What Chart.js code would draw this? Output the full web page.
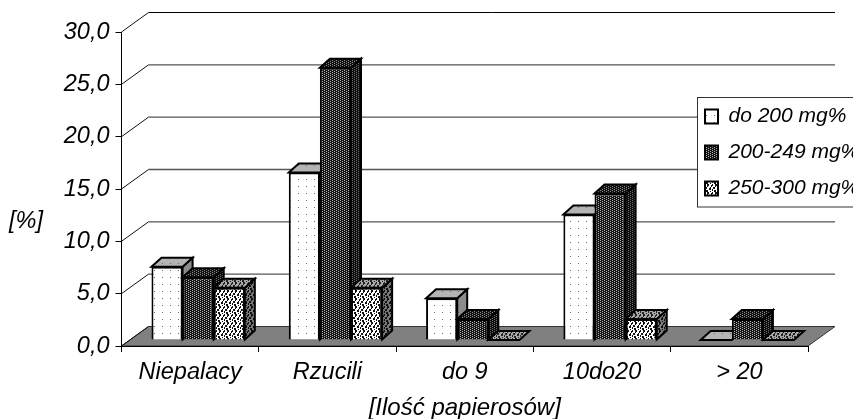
<!DOCTYPE html>
<html><head><meta charset="utf-8">
<style>html,body{margin:0;padding:0;background:#fff}canvas{display:block}</style>
<script src="https://cdn.jsdelivr.net/npm/chart.js@4"></script></head>
<body><canvas id="c" width="853" height="419"></canvas>
<script>
const categories = ['Niepalacy','Rzucili','do 9','10do20','> 20'];
const seriesNames = ['do 200 mg%','200-249 mg%','250-300 mg%'];
const low = [7,16,4,12,0];
const mid = [6,26,2,14,2];
const high = [5,5,0,2,0];
const yTitle = '[%]';
const xTitle = '[Ilość papierosów]';
const FAMILY='"Liberation Sans"';
const TICK_FONT = {family:FAMILY,style:'italic',size:23.5};
const TITLE_FONT = {family:FAMILY,style:'italic',size:24};
const LEGEND_FONT = {family:FAMILY,style:'italic',size:21};

function tile(rows,map){
  const c=document.createElement('canvas');c.width=rows[0].length;c.height=rows.length;
  const x=c.getContext('2d');
  rows.forEach((r,j)=>[...r].forEach((k,i)=>{x.fillStyle=map[k];x.fillRect(i,j,1,1);}));
  return document.getElementById('c').getContext('2d').createPattern(c,'repeat');
}
const dots=['........','........','........','..#.....','........','........','........'];
const check=['o###','##o#'];
const speck=['#..##...','#..##..#','...#...#','.##...#.','.##..##.','#....##.','#.##....','..##..#.'];
const faces=[
 {front:tile(dots,{'.':'#ffffff','#':'#666666'}),top:tile(dots,{'.':'#b4b4b4','#':'#666666'}),side:tile(dots,{'.':'#8c8c8c','#':'#666666'})},
 {front:tile(check,{'#':'#141414','o':'#b4b4b4'}),top:tile(check,{'#':'#111111','o':'#8a8a8a'}),side:tile(check,{'#':'#0c0c0c','o':'#707070'})},
 {front:tile(speck,{'.':'#ffffff','#':'#111111'}),top:tile(speck,{'.':'#a8a8a8','#':'#222222'}),side:tile(speck,{'.':'#777777','#':'#111111'})}
];

const DX=27,DY=19.5, SHIFT_X=8,SHIFT_Y=-6, BX=10,BY=9;

function poly(ctx,pts,fill){
  ctx.beginPath();pts.forEach((p,i)=>i?ctx.lineTo(p[0],p[1]):ctx.moveTo(p[0],p[1]));ctx.closePath();
  ctx.fillStyle=fill;ctx.fill();ctx.lineWidth=2;ctx.strokeStyle='#000';ctx.lineJoin='miter';ctx.stroke();
}
const scene={
 id:'scene',
 beforeLayout(chart){
   const L=chart.legend;
   if(!L._wrapped){const fit=L.fit;L.fit=function(){fit.call(this);this.width=0;};L._wrapped=true;}
 },
 afterLayout(chart){
   const L=chart.legend;
   L.left=690;L.right=853;L.top=91;L.bottom=300;L.width=163;L.height=209;
 },
 beforeDraw(chart){
   const {ctx,scales:{y}}=chart;const a=chart.chartArea;
   ctx.save();
   const b=y.getPixelForValue(0);
   ctx.beginPath();ctx.moveTo(a.left,b);ctx.lineTo(a.right,b);ctx.lineTo(a.right+DX,b-DY);ctx.lineTo(a.left+DX,b-DY);ctx.closePath();
   ctx.fillStyle='#808080';ctx.fill();ctx.lineWidth=1;ctx.strokeStyle='#333';ctx.stroke();
   y.ticks.forEach(t=>{
     const p=y.getPixelForValue(t.value);
     if(t.value>0){
       ctx.beginPath();ctx.moveTo(a.left+DX,p-DY);ctx.lineTo(a.right+DX,p-DY);
       ctx.strokeStyle=t.value===30?'#000':'#555';ctx.lineWidth=t.value===30?1:1.4;ctx.stroke();
     }
     ctx.beginPath();ctx.moveTo(a.left,p);ctx.lineTo(a.left+DX,p-DY);ctx.strokeStyle='#111';ctx.lineWidth=1;ctx.stroke();
   });
   ctx.fillStyle='#fff';ctx.fillRect(698,98,160,109);
   ctx.strokeStyle='#333';ctx.lineWidth=1;ctx.strokeRect(697.5,97.5,165,109.5);
   ctx.restore();
 },
 beforeDatasetDraw(){return false;},
 afterDatasetsDraw(chart){
   const {ctx}=chart;
   ctx.save();ctx.translate(SHIFT_X,SHIFT_Y);
   chart.data.datasets.forEach((d,i)=>{
     const meta=chart.getDatasetMeta(i),f=faces[i];
     meta.controller.draw();
     meta.data.forEach(bar=>{
       const l=bar.x-bar.width/2,r=bar.x+bar.width/2,t=bar.y,bt=bar.base;
       if(bt-t>0.5) poly(ctx,[[r,t],[r+BX,t-BY],[r+BX,bt-BY],[r,bt]],f.side);
       poly(ctx,[[l,t],[l+BX,t-BY],[r+BX,t-BY],[r,t]],f.top);
     });
   });
   ctx.restore();
 },
 afterDraw(chart){
   const {ctx}=chart;
   ctx.save();ctx.font='italic 23.5px "Liberation Sans"';ctx.fillStyle='#000';ctx.textAlign='center';ctx.textBaseline='middle';
   ctx.fillText(yTitle,26,221);ctx.restore();
 }
};

new Chart(document.getElementById('c'),{
 type:'bar',
 data:{labels:categories,datasets:[low,mid,high].map((d,i)=>({
   label:seriesNames[i],data:d,backgroundColor:faces[i].front,borderColor:'#000',borderWidth:2,
   categoryPercentage:0.68,barPercentage:1
 }))},
 options:{
  responsive:false,animation:false,devicePixelRatio:1,
  layout:{padding:{left:0,right:45,top:32,bottom:0}},
  plugins:{
   tooltip:{enabled:false},
   legend:{display:true,position:'right',align:'start',
    labels:{boxWidth:13,boxHeight:14,padding:15,color:'#000',font:LEGEND_FONT}}
  },
  scales:{
   x:{grid:{display:true,drawOnChartArea:false,offset:true,tickLength:6,tickColor:'#000',tickWidth:1},
      border:{color:'#000',width:1},
      ticks:{color:'#000',font:TICK_FONT,padding:6,maxRotation:0,autoSkip:false},
      title:{display:true,text:xTitle,color:'#000',font:TITLE_FONT,padding:{top:6,bottom:-4}},
      afterFit(s){s.height=73;}},
   y:{min:0,max:30,grid:{drawOnChartArea:false,tickLength:6,tickColor:'#000',tickWidth:1},
      border:{color:'#000',width:1},
      ticks:{stepSize:5,color:'#000',font:TICK_FONT,padding:6,callback:v=>v.toFixed(1).replace('.',',')},
      afterFit(s){s.width=121.5;}}
  }
 },
 plugins:[scene]
});
</script></body></html>
